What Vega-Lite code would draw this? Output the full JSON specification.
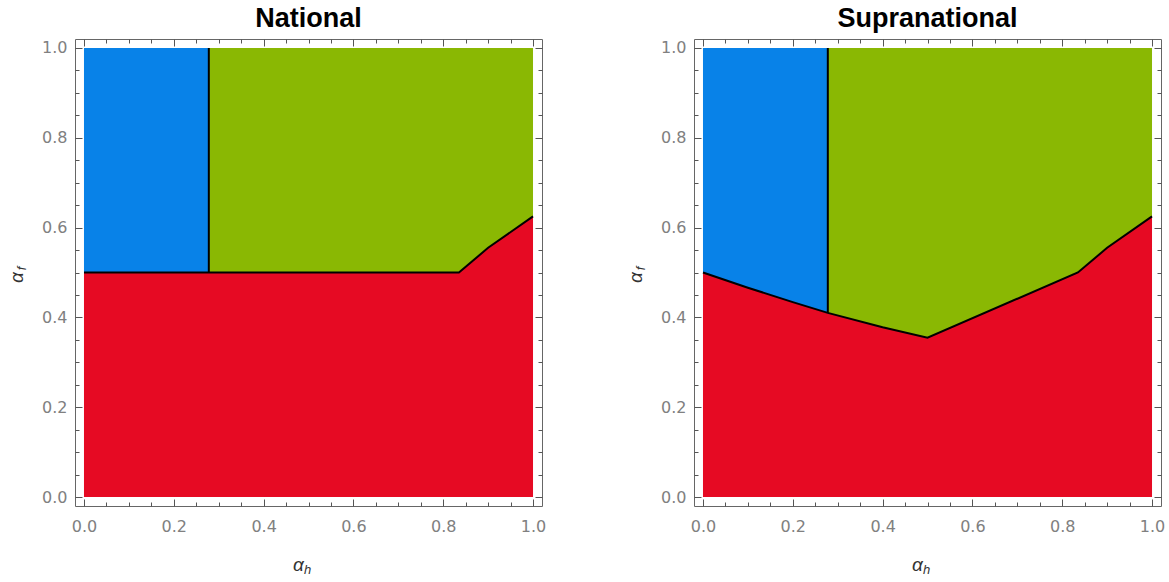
{
  "$schema": "https://vega.github.io/schema/vega-lite/v6.json",
  "background": "white",
  "padding": {"left": 6, "top": 4, "right": 0, "bottom": 0},
  "spacing": 78,
  "data": {
    "values": [
      {"p": "National", "r": "red", "x": 0, "lo": 0, "hi": 0.5},
      {"p": "National", "r": "red", "x": 0.835, "lo": 0, "hi": 0.5},
      {"p": "National", "r": "red", "x": 0.9, "lo": 0, "hi": 0.555},
      {"p": "National", "r": "red", "x": 1, "lo": 0, "hi": 0.625},
      {"p": "National", "r": "green", "x": 0.278, "lo": 0.5, "hi": 1},
      {"p": "National", "r": "green", "x": 0.835, "lo": 0.5, "hi": 1},
      {"p": "National", "r": "green", "x": 0.9, "lo": 0.555, "hi": 1},
      {"p": "National", "r": "green", "x": 1, "lo": 0.625, "hi": 1},
      {"p": "National", "r": "blue", "x": 0, "lo": 0.5, "hi": 1},
      {"p": "National", "r": "blue", "x": 0.278, "lo": 0.5, "hi": 1},
      {"p": "National", "r": "divider", "x": 0.278, "lo": 0.5, "hi": 1},
      {"p": "Supranational", "r": "red", "x": 0, "lo": 0, "hi": 0.5},
      {"p": "Supranational", "r": "red", "x": 0.1, "lo": 0, "hi": 0.466},
      {"p": "Supranational", "r": "red", "x": 0.2, "lo": 0, "hi": 0.434},
      {"p": "Supranational", "r": "red", "x": 0.278, "lo": 0, "hi": 0.41},
      {"p": "Supranational", "r": "red", "x": 0.4, "lo": 0, "hi": 0.378},
      {"p": "Supranational", "r": "red", "x": 0.5, "lo": 0, "hi": 0.355},
      {"p": "Supranational", "r": "red", "x": 0.835, "lo": 0, "hi": 0.5},
      {"p": "Supranational", "r": "red", "x": 0.9, "lo": 0, "hi": 0.555},
      {"p": "Supranational", "r": "red", "x": 1, "lo": 0, "hi": 0.625},
      {"p": "Supranational", "r": "green", "x": 0.278, "lo": 0.41, "hi": 1},
      {"p": "Supranational", "r": "green", "x": 0.4, "lo": 0.378, "hi": 1},
      {"p": "Supranational", "r": "green", "x": 0.5, "lo": 0.355, "hi": 1},
      {"p": "Supranational", "r": "green", "x": 0.835, "lo": 0.5, "hi": 1},
      {"p": "Supranational", "r": "green", "x": 0.9, "lo": 0.555, "hi": 1},
      {"p": "Supranational", "r": "green", "x": 1, "lo": 0.625, "hi": 1},
      {"p": "Supranational", "r": "blue", "x": 0, "lo": 0.5, "hi": 1},
      {"p": "Supranational", "r": "blue", "x": 0.1, "lo": 0.466, "hi": 1},
      {"p": "Supranational", "r": "blue", "x": 0.2, "lo": 0.434, "hi": 1},
      {"p": "Supranational", "r": "blue", "x": 0.278, "lo": 0.41, "hi": 1},
      {"p": "Supranational", "r": "divider", "x": 0.278, "lo": 0.41, "hi": 1}
    ]
  },
  "hconcat": [
    {
      "width": 467,
      "height": 467,
      "title": {"text": "National", "font": "Liberation Sans", "fontSize": 27, "fontWeight": "bold", "color": "#000000", "baseline": "alphabetic", "offset": -15, "frame": "group", "anchor": "middle"},
      "resolve": {"axis": {"x": "independent", "y": "independent"}},
      "layer": [
        {
          "transform": [{"filter": "datum.p === 'National' && datum.r === 'red'"}],
          "mark": {"type": "area", "orient": "vertical", "color": "#E60A23", "opacity": 1},
          "encoding": {
            "x": {"field": "x", "type": "quantitative", "scale": {"domain": [-0.02, 1.02], "nice": false, "zero": false},
              "axis": {"orient": "bottom", "values": [0, 0.2, 0.4, 0.6, 0.8, 1], "format": ".1f", "tickSize": -7, "labelPadding": 32, "labelBaseline": "alphabetic", "labelAlign": "center",
                "title": "α", "titleX": 223, "titleY": 64, "titleBaseline": "alphabetic", "titleAlign": "center", "titleAngle": 0}},
            "y": {"field": "hi", "type": "quantitative", "scale": {"domain": [-0.02, 1.02], "nice": false, "zero": false},
              "axis": {"orient": "left", "values": [0, 0.2, 0.4, 0.6, 0.8, 1], "format": ".1f", "tickSize": -7, "labelPadding": 15, "labelAlign": "right", "labelBaseline": "middle",
                "title": "α", "titleX": -53, "titleY": 238, "titleAngle": -90, "titleAlign": "center", "titleBaseline": "alphabetic"}},
            "y2": {"field": "lo"}
          }
        },
        {
          "transform": [{"filter": "datum.p === 'National' && datum.r === 'green'"}],
          "mark": {"type": "area", "orient": "vertical", "color": "#8AB803", "opacity": 1},
          "encoding": {
            "x": {"field": "x", "type": "quantitative", "scale": {"domain": [-0.02, 1.02], "nice": false, "zero": false},
              "axis": {"orient": "bottom", "values": [0.05, 0.1, 0.15, 0.25, 0.3, 0.35, 0.45, 0.5, 0.55, 0.65, 0.7, 0.75, 0.85, 0.9, 0.95], "tickSize": -4, "labels": false,
                "title": "h", "titleFontSize": 13, "titleX": 232, "titleY": 67, "titleBaseline": "alphabetic", "titleAlign": "center", "titleAngle": 0}},
            "y": {"field": "hi", "type": "quantitative", "scale": {"domain": [-0.02, 1.02], "nice": false, "zero": false},
              "axis": {"orient": "left", "values": [0.05, 0.1, 0.15, 0.25, 0.3, 0.35, 0.45, 0.5, 0.55, 0.65, 0.7, 0.75, 0.85, 0.9, 0.95], "tickSize": -4, "labels": false,
                "title": "f", "titleFontSize": 13, "titleX": -50, "titleY": 229, "titleAngle": -90, "titleAlign": "center", "titleBaseline": "alphabetic"}},
            "y2": {"field": "lo"}
          }
        },
        {
          "transform": [{"filter": "datum.p === 'National' && datum.r === 'blue'"}],
          "mark": {"type": "area", "orient": "vertical", "color": "#0882E8", "opacity": 1},
          "encoding": {
            "x": {"field": "x", "type": "quantitative", "scale": {"domain": [-0.02, 1.02], "nice": false, "zero": false},
              "axis": {"orient": "top", "values": [0, 0.2, 0.4, 0.6, 0.8, 1], "tickSize": -7, "labels": false, "title": null}},
            "y": {"field": "hi", "type": "quantitative", "scale": {"domain": [-0.02, 1.02], "nice": false, "zero": false},
              "axis": {"orient": "right", "values": [0, 0.2, 0.4, 0.6, 0.8, 1], "tickSize": -7, "labels": false, "title": null}},
            "y2": {"field": "lo"}
          }
        },
        {
          "transform": [{"filter": "datum.p === 'National' && datum.r === 'red'"}],
          "mark": {"type": "line", "color": "#000000", "strokeWidth": 2},
          "encoding": {
            "x": {"field": "x", "type": "quantitative", "scale": {"domain": [-0.02, 1.02], "nice": false, "zero": false},
              "axis": {"orient": "top", "values": [0.05, 0.1, 0.15, 0.25, 0.3, 0.35, 0.45, 0.5, 0.55, 0.65, 0.7, 0.75, 0.85, 0.9, 0.95], "tickSize": -4, "labels": false, "title": null}},
            "y": {"field": "hi", "type": "quantitative", "scale": {"domain": [-0.02, 1.02], "nice": false, "zero": false},
              "axis": {"orient": "right", "values": [0.05, 0.1, 0.15, 0.25, 0.3, 0.35, 0.45, 0.5, 0.55, 0.65, 0.7, 0.75, 0.85, 0.9, 0.95], "tickSize": -4, "labels": false, "title": null}}
          }
        },
        {
          "transform": [{"filter": "datum.p === 'National' && datum.r === 'divider'"}],
          "mark": {"type": "rule", "color": "#000000", "strokeWidth": 2},
          "encoding": {
            "x": {"field": "x", "type": "quantitative", "scale": {"domain": [-0.02, 1.02], "nice": false, "zero": false}, "axis": null},
            "y": {"field": "lo", "type": "quantitative", "scale": {"domain": [-0.02, 1.02], "nice": false, "zero": false}, "axis": null},
            "y2": {"field": "hi"}
          }
        }
      ]
    },
    {
      "width": 467,
      "height": 467,
      "title": {"text": "Supranational", "font": "Liberation Sans", "fontSize": 27, "fontWeight": "bold", "color": "#000000", "baseline": "alphabetic", "offset": -15, "frame": "group", "anchor": "middle"},
      "resolve": {"axis": {"x": "independent", "y": "independent"}},
      "layer": [
        {
          "transform": [{"filter": "datum.p === 'Supranational' && datum.r === 'red'"}],
          "mark": {"type": "area", "orient": "vertical", "color": "#E60A23", "opacity": 1},
          "encoding": {
            "x": {"field": "x", "type": "quantitative", "scale": {"domain": [-0.02, 1.02], "nice": false, "zero": false},
              "axis": {"orient": "bottom", "values": [0, 0.2, 0.4, 0.6, 0.8, 1], "format": ".1f", "tickSize": -7, "labelPadding": 32, "labelBaseline": "alphabetic", "labelAlign": "center",
                "title": "α", "titleX": 223, "titleY": 64, "titleBaseline": "alphabetic", "titleAlign": "center", "titleAngle": 0}},
            "y": {"field": "hi", "type": "quantitative", "scale": {"domain": [-0.02, 1.02], "nice": false, "zero": false},
              "axis": {"orient": "left", "values": [0, 0.2, 0.4, 0.6, 0.8, 1], "format": ".1f", "tickSize": -7, "labelPadding": 15, "labelAlign": "right", "labelBaseline": "middle",
                "title": "α", "titleX": -53, "titleY": 238, "titleAngle": -90, "titleAlign": "center", "titleBaseline": "alphabetic"}},
            "y2": {"field": "lo"}
          }
        },
        {
          "transform": [{"filter": "datum.p === 'Supranational' && datum.r === 'green'"}],
          "mark": {"type": "area", "orient": "vertical", "color": "#8AB803", "opacity": 1},
          "encoding": {
            "x": {"field": "x", "type": "quantitative", "scale": {"domain": [-0.02, 1.02], "nice": false, "zero": false},
              "axis": {"orient": "bottom", "values": [0.05, 0.1, 0.15, 0.25, 0.3, 0.35, 0.45, 0.5, 0.55, 0.65, 0.7, 0.75, 0.85, 0.9, 0.95], "tickSize": -4, "labels": false,
                "title": "h", "titleFontSize": 13, "titleX": 232, "titleY": 67, "titleBaseline": "alphabetic", "titleAlign": "center", "titleAngle": 0}},
            "y": {"field": "hi", "type": "quantitative", "scale": {"domain": [-0.02, 1.02], "nice": false, "zero": false},
              "axis": {"orient": "left", "values": [0.05, 0.1, 0.15, 0.25, 0.3, 0.35, 0.45, 0.5, 0.55, 0.65, 0.7, 0.75, 0.85, 0.9, 0.95], "tickSize": -4, "labels": false,
                "title": "f", "titleFontSize": 13, "titleX": -50, "titleY": 229, "titleAngle": -90, "titleAlign": "center", "titleBaseline": "alphabetic"}},
            "y2": {"field": "lo"}
          }
        },
        {
          "transform": [{"filter": "datum.p === 'Supranational' && datum.r === 'blue'"}],
          "mark": {"type": "area", "orient": "vertical", "color": "#0882E8", "opacity": 1},
          "encoding": {
            "x": {"field": "x", "type": "quantitative", "scale": {"domain": [-0.02, 1.02], "nice": false, "zero": false},
              "axis": {"orient": "top", "values": [0, 0.2, 0.4, 0.6, 0.8, 1], "tickSize": -7, "labels": false, "title": null}},
            "y": {"field": "hi", "type": "quantitative", "scale": {"domain": [-0.02, 1.02], "nice": false, "zero": false},
              "axis": {"orient": "right", "values": [0, 0.2, 0.4, 0.6, 0.8, 1], "tickSize": -7, "labels": false, "title": null}},
            "y2": {"field": "lo"}
          }
        },
        {
          "transform": [{"filter": "datum.p === 'Supranational' && datum.r === 'red'"}],
          "mark": {"type": "line", "color": "#000000", "strokeWidth": 2},
          "encoding": {
            "x": {"field": "x", "type": "quantitative", "scale": {"domain": [-0.02, 1.02], "nice": false, "zero": false},
              "axis": {"orient": "top", "values": [0.05, 0.1, 0.15, 0.25, 0.3, 0.35, 0.45, 0.5, 0.55, 0.65, 0.7, 0.75, 0.85, 0.9, 0.95], "tickSize": -4, "labels": false, "title": null}},
            "y": {"field": "hi", "type": "quantitative", "scale": {"domain": [-0.02, 1.02], "nice": false, "zero": false},
              "axis": {"orient": "right", "values": [0.05, 0.1, 0.15, 0.25, 0.3, 0.35, 0.45, 0.5, 0.55, 0.65, 0.7, 0.75, 0.85, 0.9, 0.95], "tickSize": -4, "labels": false, "title": null}}
          }
        },
        {
          "transform": [{"filter": "datum.p === 'Supranational' && datum.r === 'divider'"}],
          "mark": {"type": "rule", "color": "#000000", "strokeWidth": 2},
          "encoding": {
            "x": {"field": "x", "type": "quantitative", "scale": {"domain": [-0.02, 1.02], "nice": false, "zero": false}, "axis": null},
            "y": {"field": "lo", "type": "quantitative", "scale": {"domain": [-0.02, 1.02], "nice": false, "zero": false}, "axis": null},
            "y2": {"field": "hi"}
          }
        }
      ]
    }
  ],
  "config": {
    "view": {"stroke": "#666666", "strokeWidth": 1},
    "axis": {
      "domain": false,
      "grid": false,
      "ticks": true,
      "minExtent": 0,
      "tickColor": "#555555",
      "tickWidth": 1,
      "labelFont": "DejaVu Sans",
      "labelFontSize": 16,
      "labelColor": "#808080",
      "labelFlush": false,
      "labelOverlap": false,
      "titleFont": "Liberation Sans",
      "titleFontStyle": "italic",
      "titleFontWeight": "normal",
      "titleFontSize": 19,
      "titleColor": "#333333"
    }
  }
}
